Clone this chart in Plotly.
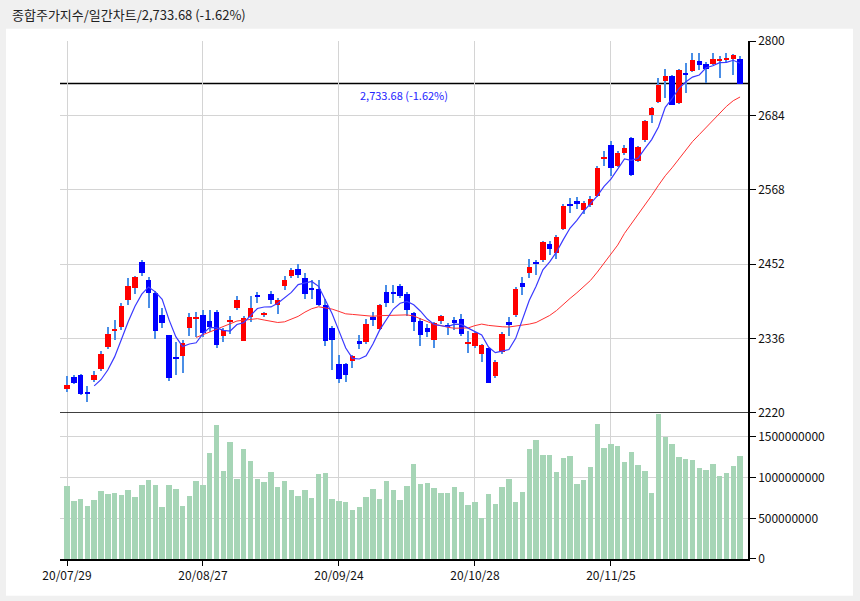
import plotly.graph_objects as go
import numpy as np
import pandas as pd

# 종합주가지수 daily, 2020-07-29 .. 2020-12-22 (100 trading days)
dates = [
    "2020-07-29", "2020-07-30", "2020-07-31",
    "2020-08-03", "2020-08-04", "2020-08-05", "2020-08-06", "2020-08-07",
    "2020-08-10", "2020-08-11", "2020-08-12", "2020-08-13", "2020-08-14",
    "2020-08-18", "2020-08-19", "2020-08-20", "2020-08-21",
    "2020-08-24", "2020-08-25", "2020-08-26", "2020-08-27", "2020-08-28",
    "2020-08-31", "2020-09-01", "2020-09-02", "2020-09-03", "2020-09-04",
    "2020-09-07", "2020-09-08", "2020-09-09", "2020-09-10", "2020-09-11",
    "2020-09-14", "2020-09-15", "2020-09-16", "2020-09-17", "2020-09-18",
    "2020-09-21", "2020-09-22", "2020-09-23", "2020-09-24", "2020-09-25",
    "2020-09-28", "2020-09-29",
    "2020-10-05", "2020-10-06", "2020-10-07", "2020-10-08",
    "2020-10-12", "2020-10-13", "2020-10-14", "2020-10-15", "2020-10-16",
    "2020-10-19", "2020-10-20", "2020-10-21", "2020-10-22", "2020-10-23",
    "2020-10-26", "2020-10-27", "2020-10-28", "2020-10-29", "2020-10-30",
    "2020-11-02", "2020-11-03", "2020-11-04", "2020-11-05", "2020-11-06",
    "2020-11-09", "2020-11-10", "2020-11-11", "2020-11-12", "2020-11-13",
    "2020-11-16", "2020-11-17", "2020-11-18", "2020-11-19", "2020-11-20",
    "2020-11-23", "2020-11-24", "2020-11-25", "2020-11-26", "2020-11-27",
    "2020-11-30", "2020-12-01", "2020-12-02", "2020-12-03", "2020-12-04",
    "2020-12-07", "2020-12-08", "2020-12-09", "2020-12-10", "2020-12-11",
    "2020-12-14", "2020-12-15", "2020-12-16", "2020-12-17", "2020-12-18",
    "2020-12-21", "2020-12-22",
]

open_ = [
    2258, 2276, 2279, 2253, 2271, 2289, 2323, 2349, 2354, 2396,
    2415, 2456, 2428, 2407, 2373, 2341, 2307, 2309, 2352, 2367,
    2373, 2363, 2378, 2340, 2362, 2383, 2332, 2370, 2403, 2373,
    2405, 2389, 2418, 2433, 2444, 2431, 2415, 2413, 2389, 2353,
    2296, 2296, 2301, 2332, 2331, 2369, 2350.5, 2409, 2408.5, 2418,
    2405, 2376.5, 2363.4, 2353, 2334, 2363, 2357, 2365, 2367, 2327.6,
    2324.5, 2311.6, 2320.7, 2277, 2315.7, 2362, 2372, 2422, 2437.7, 2455,
    2458.4, 2482.8, 2470, 2507, 2546, 2549.8, 2535.8, 2543.6, 2559, 2617,
    2638.5, 2604.8, 2625.6, 2649, 2612.6, 2645.2, 2685, 2705, 2737, 2746,
    2703.5, 2750.6, 2754, 2769.3, 2764.7, 2764.2, 2769, 2770.5, 2772, 2772.4,
]
high = [
    2278, 2280, 2281, 2262, 2285, 2317, 2354, 2365, 2392, 2430,
    2434, 2459, 2432, 2410, 2384, 2341, 2330, 2334, 2376, 2377,
    2380, 2380, 2380, 2352, 2371, 2402, 2371, 2402, 2408, 2378,
    2410, 2400, 2433, 2446, 2452, 2438, 2428, 2428, 2397, 2355,
    2311, 2298, 2310, 2341, 2366, 2377, 2390, 2420, 2420, 2421,
    2408, 2378, 2368, 2358, 2362, 2372, 2360, 2369, 2374, 2348,
    2347, 2328, 2321, 2302, 2346, 2370, 2416, 2432, 2459.5, 2458,
    2488, 2488, 2497, 2546, 2555.5, 2556, 2550, 2558, 2605.8, 2629,
    2643.7, 2628, 2638, 2650, 2636, 2677, 2697, 2742, 2756, 2747,
    2757, 2765.7, 2781, 2782, 2768, 2782, 2777, 2782, 2779, 2776,
]
low = [
    2252, 2265, 2248, 2237, 2269, 2285, 2320, 2334, 2350, 2389,
    2405, 2433, 2384, 2336, 2353, 2270, 2280, 2283, 2340, 2338,
    2339, 2347, 2322, 2330, 2343, 2380, 2332, 2362, 2392, 2370,
    2390, 2374, 2412, 2430, 2430, 2397, 2397, 2387, 2325, 2287,
    2267, 2268, 2290, 2319, 2327, 2356, 2349, 2385, 2392, 2400,
    2371, 2348, 2325, 2338, 2322, 2358, 2342, 2350, 2340, 2313,
    2322, 2300, 2267, 2274, 2312, 2340, 2370, 2404, 2430, 2434.6,
    2456, 2465.7, 2460, 2505, 2532, 2538, 2529.6, 2541, 2557, 2605,
    2589, 2603, 2622, 2590, 2611, 2643, 2672, 2703, 2711, 2700,
    2702, 2719, 2752, 2755, 2734.6, 2762, 2742, 2766, 2747.5, 2733,
]
close = [
    2263.5, 2267.0, 2249.4, 2251.0, 2280.0, 2311.9, 2342.6, 2351.7, 2386.4, 2418.7,
    2432.4, 2437.5, 2407.5, 2348.2, 2360.5, 2274.2, 2304.6, 2329.8, 2369.0, 2369.5,
    2345.0, 2354.0, 2326.2, 2349.9, 2364.0, 2396.0, 2368.3, 2384.2, 2401.9, 2375.8,
    2396.5, 2396.7, 2427.7, 2443.6, 2435.9, 2406.2, 2412.4, 2389.1, 2332.6, 2333.2,
    2272.7, 2278.8, 2308.1, 2327.9, 2358.0, 2365.5, 2388.0, 2391.8, 2407.0, 2403.0,
    2380.5, 2361.2, 2341.5, 2346.3, 2360.0, 2370.9, 2355.1, 2360.8, 2343.9, 2330.8,
    2345.3, 2326.7, 2267.2, 2300.2, 2343.3, 2357.3, 2413.8, 2416.5, 2447.2, 2452.8,
    2485.9, 2475.6, 2493.9, 2543.0, 2543.4, 2545.6, 2547.4, 2553.5, 2602.6, 2617.8,
    2601.5, 2625.9, 2633.5, 2591.3, 2634.3, 2675.9, 2696.2, 2731.5, 2745.4, 2700.9,
    2755.5, 2746.5, 2770.1, 2762.2, 2756.8, 2771.8, 2770.1, 2772.2, 2778.7, 2733.68,
]
volume = [
    9.0e8, 7.16e8, 7.4e8, 6.55e8, 7.3e8, 8.4e8, 8.0e8, 8.15e8, 7.9e8, 8.5e8,
    7.65e8, 9.1e8, 9.75e8, 9.1e8, 6.4e8, 9.1e8, 8.6e8, 6.55e8, 7.8e8, 9.6e8,
    9.1e8, 1.306e9, 1.65e9, 1.085e9, 1.44e9, 9.87e8, 1.355e9, 1.21e9, 9.87e8, 9.5e8,
    1.07e9, 8.9e8, 9.6e8, 8.5e8, 7.8e8, 8.5e8, 7.53e8, 1.048e9, 1.06e9, 7.4e8,
    7.16e8, 7.04e8, 6.06e8, 6.43e8, 7.65e8, 8.64e8, 7.4e8, 9.62e8, 8.5e8, 7.3e8,
    9.0e8, 1.17e9, 9.25e8, 9.37e8, 8.76e8, 8.15e8, 8.15e8, 8.88e8, 8.27e8, 6.67e8,
    7.04e8, 5.07e8, 8.02e8, 6.8e8, 8.88e8, 9.87e8, 7.04e8, 8.3e8, 1.355e9, 1.466e9,
    1.28e9, 1.28e9, 1.07e9, 1.245e9, 1.27e9, 9.25e8, 9.74e8, 1.134e9, 1.662e9, 1.367e9,
    1.416e9, 1.392e9, 1.195e9, 1.318e9, 1.158e9, 1.085e9, 8.15e8, 1.785e9, 1.5e9, 1.416e9,
    1.257e9, 1.232e9, 1.22e9, 1.12e9, 1.097e9, 1.17e9, 1.023e9, 1.06e9, 1.146e9, 1.27e9,
]

price_ticks = [2220, 2336, 2452, 2568, 2684, 2800]
volume_ticks = [0, 500000000, 1000000000, 1500000000]
label_idx = [0, 20, 40, 60, 80]

title_text = "종합주가지수/일간차트/2,733.68 (-1.62%)"
last_text = "2,733.68 (-1.62%)"

UP = "#ff0000"
DOWN = "#0000ff"
WICK = "#4a8ee6"
VOL = "#a6d5b6"
GRID = "#d4d4d4"
FONT = "Noto Sans CJK KR"

o = np.array(open_)
c = np.array(close)
h = np.array(high)
l = np.array(low)
body_base = np.minimum(o, c)
body_len = np.maximum(np.abs(c - o), 1.6)
colors = [UP if cc >= oo else DOWN for oo, cc in zip(o, c)]
ma5 = pd.Series(close).rolling(5).mean()
ma20 = pd.Series(close).rolling(20).mean()

fig = go.Figure()
# wicks
fig.add_trace(go.Bar(x=dates, y=h - l, base=l, width=0.16,
                     marker=dict(color=WICK, line_width=0), yaxis="y"))
# bodies
fig.add_trace(go.Bar(x=dates, y=body_len, base=body_base, width=0.8,
                     marker=dict(color=colors, line_width=0), yaxis="y"))
fig.add_trace(go.Scatter(x=dates, y=ma20, mode="lines",
                         line=dict(color="#ff3030", width=1), yaxis="y"))
fig.add_trace(go.Scatter(x=dates, y=ma5, mode="lines",
                         line=dict(color="#3a3aff", width=1.2), yaxis="y"))
fig.add_trace(go.Bar(x=dates, y=volume, width=0.8,
                     marker=dict(color=VOL, line_width=0), yaxis="y2"))

fig.update_layout(
    width=860, height=601,
    margin=dict(l=60, r=112, t=41, b=42),
    paper_bgcolor="#f0f0f0",
    plot_bgcolor="white",
    showlegend=False,
    barmode="overlay",
    bargap=0,
    font=dict(family=FONT, size=12, color="#111111"),
    xaxis=dict(
        type="category",
        range=[-1.03, 100.17],
        anchor="y2",
        tickvals=[dates[i] for i in label_idx],
        ticktext=[dates[i][2:].replace("-", "/") for i in label_idx],
        showgrid=True, gridcolor=GRID, gridwidth=1,
        showline=True, linecolor="black", linewidth=1.5,
        ticks="outside", ticklen=5, tickcolor="black",
        tickfont=dict(size=12),
        zeroline=False,
    ),
    yaxis=dict(
        domain=[0.2819, 1],
        range=[2220, 2800],
        side="right",
        anchor="x",
        tickvals=price_ticks,
        showgrid=True, gridcolor=GRID, gridwidth=1,
        showline=True, linecolor="black", linewidth=1.5,
        ticks="outside", ticklen=6, tickcolor="black",
        tickfont=dict(size=12),
        zeroline=False,
    ),
    yaxis2=dict(
        domain=[0, 0.2819],
        range=[0, 1.795e9],
        side="right",
        anchor="x",
        tickvals=volume_ticks,
        tickformat="d",
        showgrid=True, gridcolor=GRID, gridwidth=1,
        showline=True, linecolor="black", linewidth=1.5,
        ticks="outside", ticklen=6, tickcolor="black",
        tickfont=dict(size=12),
        zeroline=False,
    ),
)

# white panel behind the chart
fig.add_shape(type="rect", xref="paper", yref="paper",
              x0=-0.0785, x1=1.1526, y0=-0.0708, y1=1.0237,
              fillcolor="white", line_width=0, layer="below")
# divider between price and volume
fig.add_shape(type="line", xref="paper", yref="y", x0=0, x1=1,
              y0=price_ticks[0], y1=price_ticks[0],
              line=dict(color="black", width=1.5), layer="above")
# last price line
fig.add_shape(type="line", xref="paper", yref="y", x0=0, x1=1,
              y0=close[-1], y1=close[-1],
              line=dict(color="black", width=1.5), layer="between")

fig.add_annotation(text=last_text, xref="paper", yref="y", x=0.5, y=close[-1],
                   xanchor="center", yanchor="top", showarrow=False, yshift=-1,
                   font=dict(family=FONT, size=11, color="#2323ff"))
fig.add_annotation(text=title_text, xref="paper", yref="paper",
                   x=-0.0727, y=1.0508, xanchor="left", yanchor="middle",
                   showarrow=False,
                   font=dict(family=FONT, size=13, color="#222222"))

fig.write_html("out.html", config={"displayModeBar": False},
               post_script="document.body.style.margin='0';")
